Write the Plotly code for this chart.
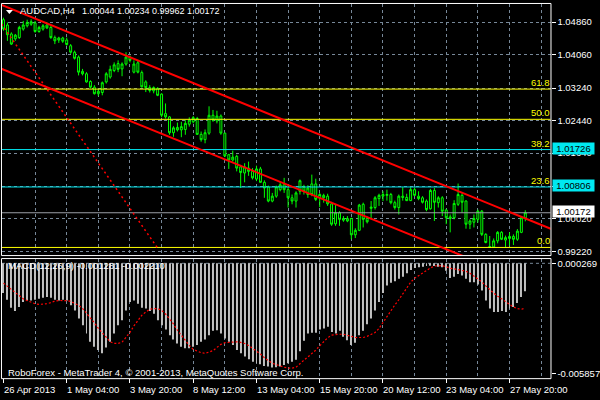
import plotly.graph_objects as go

# ---------------- data ----------------
time_labels = ["26 Apr 2013", "1 May 04:00", "3 May 20:00", "8 May 12:00", "13 May 04:00",
               "15 May 20:00", "20 May 12:00", "23 May 04:00", "27 May 20:00"]
time_label_bars = [0, 16, 32, 48, 64, 80, 96, 112, 128]
grid_bars = [8, 16, 24, 32, 40, 48, 56, 64, 72, 80, 88, 96, 104, 112, 120, 128, 136]

open_ = [1.0492, 1.0479, 1.0457, 1.0445, 1.0448, 1.0469, 1.0477, 1.0481, 1.0484, 1.0463,
         1.0469, 1.0479, 1.0473, 1.0448, 1.0442, 1.0447, 1.0442, 1.0428, 1.0412, 1.0400,
         1.0365, 1.0359, 1.0340, 1.0326, 1.0310, 1.0313, 1.0339, 1.0351, 1.0367, 1.0384,
         1.0371, 1.0383, 1.0400, 1.0363, 1.0386, 1.0362, 1.0339, 1.0325, 1.0317, 1.0323,
         1.0309, 1.0261, 1.0253, 1.0214, 1.0227, 1.0221, 1.0222, 1.0235, 1.0241, 1.0249,
         1.0210, 1.0197, 1.0213, 1.0257, 1.0243, 1.0255, 1.0213, 1.0160, 1.0147, 1.0156,
         1.0130, 1.0115, 1.0127, 1.0119, 1.0100, 1.0125, 1.0092, 1.0081, 1.0046, 1.0058,
         1.0074, 1.0086, 1.0074, 1.0054, 1.0046, 1.0070, 1.0080, 1.0062, 1.0088, 1.0088,
         1.0054, 1.0060, 1.0058, 1.0039, 0.9990, 1.0017, 0.9999, 1.0003, 1.0003, 0.9963,
         0.9974, 1.0038, 1.0003, 1.0028, 1.0030, 1.0052, 1.0058, 1.0060, 1.0062, 1.0042,
         1.0030, 1.0058, 1.0055, 1.0047, 1.0074, 1.0058, 1.0054, 1.0046, 1.0027, 1.0072,
         1.0042, 1.0054, 1.0024, 1.0007, 1.0005, 1.0038, 1.0060, 1.0046, 0.9989, 0.9994,
         1.0001, 1.0021, 0.9964, 0.9934, 0.9933, 0.9948, 0.9969, 0.9950, 0.9954, 0.9959,
         0.9952, 0.9969, 1.00044]
high = [1.0497, 1.0485, 1.0461, 1.0457, 1.0477, 1.0489, 1.0492, 1.0493, 1.0489, 1.0477,
        1.0481, 1.0485, 1.0477, 1.0453, 1.0450, 1.0450, 1.0448, 1.0432, 1.0416, 1.0404,
        1.0371, 1.0363, 1.0343, 1.0331, 1.0322, 1.0340, 1.0363, 1.0379, 1.0387, 1.0392,
        1.0387, 1.0412, 1.0404, 1.0392, 1.0392, 1.0367, 1.0343, 1.0331, 1.0328, 1.0326,
        1.0311, 1.0286, 1.0255, 1.0230, 1.0239, 1.0241, 1.0245, 1.0252, 1.0255, 1.0253,
        1.0217, 1.0222, 1.0279, 1.0270, 1.0268, 1.0259, 1.0214, 1.0162, 1.0170, 1.0160,
        1.0135, 1.0139, 1.0143, 1.0127, 1.0133, 1.0130, 1.0097, 1.0084, 1.0066, 1.0084,
        1.0093, 1.0103, 1.0082, 1.0062, 1.0070, 1.0099, 1.0086, 1.0085, 1.0111, 1.0101,
        1.0066, 1.0064, 1.0064, 1.0044, 1.0038, 1.0021, 1.0009, 1.0009, 1.0005, 0.9979,
        1.0039, 1.0042, 1.0008, 1.0046, 1.0058, 1.0064, 1.0070, 1.0074, 1.0066, 1.0047,
        1.0062, 1.0080, 1.0064, 1.0080, 1.0079, 1.0070, 1.0058, 1.0050, 1.0076, 1.0078,
        1.0058, 1.0058, 1.0027, 1.0013, 1.0048, 1.0089, 1.0065, 1.0048, 1.0001, 1.0013,
        1.0025, 1.0024, 0.9967, 0.9960, 0.9954, 0.9972, 0.9972, 0.9961, 0.9969, 0.9964,
        0.9977, 1.0009, 1.00234]
low = [1.0465, 1.0440, 1.0430, 1.0440, 1.0445, 1.0465, 1.0473, 1.0477, 1.0460, 1.0460,
       1.0465, 1.0469, 1.0445, 1.0432, 1.0435, 1.0435, 1.0428, 1.0408, 1.0394, 1.0355,
       1.0355, 1.0337, 1.0323, 1.0308, 1.0304, 1.0306, 1.0335, 1.0347, 1.0363, 1.0363,
       1.0353, 1.0379, 1.0387, 1.0360, 1.0360, 1.0325, 1.0314, 1.0313, 1.0311, 1.0304,
       1.0252, 1.0249, 1.0209, 1.0204, 1.0217, 1.0203, 1.0209, 1.0229, 1.0237, 1.0209,
       1.0192, 1.0188, 1.0209, 1.0241, 1.0237, 1.0209, 1.0154, 1.0125, 1.0143, 1.0119,
       1.0078, 1.0092, 1.0108, 1.0099, 1.0095, 1.0091, 1.0054, 1.0043, 1.0043, 1.0054,
       1.0070, 1.0066, 1.0030, 1.0038, 1.0030, 1.0062, 1.0062, 1.0054, 1.0058, 1.0046,
       1.0031, 1.0042, 1.0034, 0.9985, 0.9985, 0.9985, 0.9995, 0.9994, 0.9952, 0.9955,
       0.9972, 0.9981, 0.9991, 1.0001, 1.0025, 1.0034, 1.0046, 1.0047, 1.0038, 1.0025,
       1.0013, 1.0047, 1.0046, 1.0046, 1.0058, 1.0048, 1.0040, 1.0021, 1.0025, 0.9997,
       1.0030, 1.0009, 0.9989, 0.9969, 1.0001, 1.0034, 1.0017, 0.9978, 0.9977, 0.9981,
       0.9993, 0.9960, 0.9942, 0.99319, 0.9932, 0.9942, 0.9950, 0.9933, 0.9936, 0.9938,
       0.9948, 0.9967, 0.99962]
close = [1.0469, 1.0455, 1.0432, 1.0454, 1.0473, 1.0479, 1.0485, 1.0487, 1.0463, 1.0473,
         1.0477, 1.0472, 1.0448, 1.0440, 1.0447, 1.0439, 1.0431, 1.0412, 1.0397, 1.0363,
         1.0359, 1.0339, 1.0326, 1.0310, 1.0316, 1.0337, 1.0359, 1.0370, 1.0381, 1.0370,
         1.0383, 1.0400, 1.0392, 1.0383, 1.0363, 1.0327, 1.0325, 1.0318, 1.0325, 1.0306,
         1.0257, 1.0253, 1.0214, 1.0226, 1.0221, 1.0229, 1.0237, 1.0245, 1.0251, 1.0210,
         1.0197, 1.0214, 1.0257, 1.0245, 1.0255, 1.0213, 1.0157, 1.0147, 1.0154, 1.0127,
         1.0116, 1.0130, 1.0119, 1.0103, 1.0125, 1.0092, 1.0078, 1.0046, 1.0058, 1.0081,
         1.0086, 1.0074, 1.0054, 1.0046, 1.0066, 1.0096, 1.0070, 1.0078, 1.0062, 1.0050,
         1.0062, 1.0054, 1.0039, 0.9989, 1.0017, 1.0001, 1.0003, 0.9997, 0.9963, 0.9974,
         1.0036, 1.0001, 0.9995, 1.0031, 1.0054, 1.0060, 1.0062, 1.0062, 1.0042, 1.0030,
         1.0058, 1.0055, 1.0047, 1.0074, 1.0060, 1.0052, 1.0043, 1.0025, 1.0072, 1.0043,
         1.0054, 1.0021, 1.0005, 1.0003, 1.0040, 1.0062, 1.0043, 0.9989, 0.9997, 1.0003,
         1.0021, 0.9964, 0.9944, 0.9933, 0.9948, 0.9969, 0.9952, 0.9956, 0.9959, 0.9952,
         0.9972, 1.0005, 1.00172]

macd_main = [-0.00138, -0.00175, -0.00219, -0.00237, -0.00215, -0.00188, -0.00179, -0.00179, -0.00175, -0.00170,
             -0.00164, -0.00160, -0.00164, -0.00175, -0.00179, -0.00175, -0.00179, -0.00206, -0.00234, -0.00279,
             -0.00316, -0.00362, -0.00408, -0.00435, -0.00454, -0.00472, -0.00439, -0.00408, -0.00362, -0.00316,
             -0.00289, -0.00234, -0.00188, -0.00179, -0.00197, -0.00219, -0.00224, -0.00237, -0.00252, -0.00289,
             -0.00316, -0.00340, -0.00371, -0.00395, -0.00417, -0.00435, -0.00444, -0.00444, -0.00435, -0.00426,
             -0.00408, -0.00395, -0.00371, -0.00347, -0.00344, -0.00362, -0.00389, -0.00408, -0.00426, -0.00454,
             -0.00472, -0.00490, -0.00505, -0.00518, -0.00527, -0.00532, -0.00542, -0.00545, -0.00551, -0.00549,
             -0.00545, -0.00536, -0.00527, -0.00518, -0.00508, -0.00460, -0.00402, -0.00362, -0.00358, -0.00358,
             -0.00340, -0.00334, -0.00325, -0.00353, -0.00362, -0.00347, -0.00380, -0.00399, -0.00426, -0.00413,
             -0.00371, -0.00347, -0.00311, -0.00279, -0.00234, -0.00188, -0.00138, -0.00096, -0.00081, -0.00072,
             -0.00059, -0.00047, -0.00028, -0.00010, 0.00001, 0.00005, 0.00008, 0.00012, 0.00014, 0.00012,
             0.00008, 0.00005, -0.00014, -0.00054, -0.00047, -0.00032, -0.00041, -0.00059, -0.00078, -0.00078,
             -0.00091, -0.00124, -0.00179, -0.00224, -0.00243, -0.00243, -0.00237, -0.00243, -0.00224, -0.00215,
             -0.00193, -0.00160, -0.001281]
macd_signal = [-0.00083, -0.00100, -0.00118, -0.00138, -0.00155, -0.00170, -0.00180, -0.00190, -0.00197, -0.00201,
               -0.00201, -0.00197, -0.00191, -0.00182, -0.00179, -0.00179, -0.00180, -0.00184, -0.00193, -0.00206,
               -0.00223, -0.00248, -0.00276, -0.00303, -0.00333, -0.00360, -0.00386, -0.00408, -0.00417, -0.00417,
               -0.00410, -0.00386, -0.00356, -0.00320, -0.00289, -0.00261, -0.00243, -0.00228, -0.00224, -0.00224,
               -0.00234, -0.00254, -0.00281, -0.00309, -0.00344, -0.00373, -0.00399, -0.00428, -0.00450, -0.00461,
               -0.00468, -0.00472, -0.00466, -0.00457, -0.00439, -0.00422, -0.00413, -0.00410, -0.00408, -0.00408,
               -0.00411, -0.00417, -0.00428, -0.00443, -0.00459, -0.00476, -0.00496, -0.00514, -0.00527, -0.00534,
               -0.00543, -0.00549, -0.00553, -0.00554, -0.00549, -0.00532, -0.00510, -0.00492, -0.00474, -0.00454,
               -0.00430, -0.00408, -0.00386, -0.00371, -0.00367, -0.00366, -0.00366, -0.00373, -0.00380, -0.00384,
               -0.00384, -0.00384, -0.00378, -0.00367, -0.00356, -0.00334, -0.00300, -0.00270, -0.00234, -0.00204,
               -0.00175, -0.00142, -0.00109, -0.00078, -0.00056, -0.00041, -0.00026, -0.00012, 0.00001, 0.00012,
               0.00014, 0.00014, 0.00008, -0.00001, -0.00004, -0.00008, -0.00010, -0.00017, -0.00028, -0.00043,
               -0.00059, -0.00076, -0.00098, -0.00120, -0.00138, -0.00155, -0.00171, -0.00184, -0.00199, -0.00215,
               -0.00224, -0.00228, -0.00221]

price_ticks = [1.04860, 1.04060, 1.03240, 1.02440, 1.01640, 1.00820, 1.00020, 0.99220]
macd_top, macd_bottom = 0.000269, -0.005857

fib_names = ["0.0", "23.6", "38.2", "50.0", "61.8"]
fib_prices = [0.99319, 1.00806, 1.01726, 1.02470, 1.03213]
fib_colors = ["#FFFF00", "#00E8F0", "#00E8F0", "#FFFF00", "#FFFF00"]
fib_anchor_bars = [-6.25, 38.875]
fib_anchor_prices = [1.05620, 0.99319]

channel_bars = [-1, 139]
channel_upper = [1.05304, 0.99754]
channel_lower = [1.03732, 0.98211]

bid_price = 1.00172
header_parts = ["AUDCAD,H4", "1.00044", "1.00234", "0.99962", "1.00172"]
macd_header = "MACD(12,26,9) -0.001281 -0.002210"
copyright_text = "RoboForex - MetaTrader 4, \u00a9 2001-2013, MetaQuotes Software Corp."

# ---------------- layout geometry (pixels) ----------------
W, H = 600, 400
FONT = "Liberation Sans, Arial, sans-serif"
FS = 9.5
GRID = "#778899"
DASH = "3px,3px"
header_x_px = [19, 81.5, 117, 153, 188.5]
header_fs = [9.5, 9, 9, 9, 9]

def fx(p):
    return p / W

def fy(p):
    return 1 - p / H

bars = list(range(len(open_)))
hist_len = [v - macd_top for v in macd_main]

fig = go.Figure()

fig.add_trace(go.Candlestick(
    x=bars, open=open_, high=high, low=low, close=close,
    increasing=dict(line=dict(color="#00FF00", width=1), fillcolor="#000000"),
    decreasing=dict(line=dict(color="#00FF00", width=1), fillcolor="#000000"),
    whiskerwidth=0, xaxis="x", yaxis="y", hoverinfo="skip"))

for name, lvl, col in zip(fib_names, fib_prices, fib_colors):
    fig.add_trace(go.Scatter(x=[-7, 140], y=[lvl, lvl], mode="lines",
                             line=dict(color=col, width=1), xaxis="x", yaxis="y",
                             hoverinfo="skip"))
fig.add_trace(go.Scatter(x=[-7, 140], y=[bid_price, bid_price], mode="lines",
                         line=dict(color="#9A9EA6", width=1), xaxis="x", yaxis="y",
                         hoverinfo="skip"))
fig.add_trace(go.Scatter(x=fib_anchor_bars, y=fib_anchor_prices, mode="lines",
                         line=dict(color="#FF0000", width=1.5, dash="2px,3px"),
                         xaxis="x", yaxis="y", hoverinfo="skip"))
for ys in (channel_upper, channel_lower):
    fig.add_trace(go.Scatter(x=channel_bars, y=ys, mode="lines",
                             line=dict(color="#FF0000", width=2),
                             xaxis="x", yaxis="y", hoverinfo="skip"))

fig.add_trace(go.Bar(x=bars, y=hist_len, base=macd_top, width=0.25,
                     marker=dict(color="#C0C0C0", line=dict(width=0)),
                     xaxis="x2", yaxis="y2", hoverinfo="skip"))
fig.add_trace(go.Scatter(x=bars, y=macd_signal, mode="lines",
                         line=dict(color="#FF0000", width=1.2, dash="2px,2px"),
                         xaxis="x2", yaxis="y2", hoverinfo="skip"))

xdom = [fx(2), fx(557)]
xr = [-0.375, 138.375]
main_rng = [1.0538 - 0.0002441 * 256, 1.0538 - 0.0002441 * 3]
def macd_at(py):
    return macd_top - (py - 264.3) * 5.499e-5
macd_rng = [macd_at(380), macd_at(260)]

tickfont = dict(family=FONT, size=FS, color="white")

fig.update_layout(
    width=W, height=H, margin=dict(l=0, r=0, t=0, b=0),
    paper_bgcolor="black", plot_bgcolor="black", showlegend=False,
    xaxis=dict(domain=xdom, range=xr, anchor="y", tickmode="array", tickvals=grid_bars,
               showgrid=True, gridcolor=GRID, griddash=DASH, gridwidth=1,
               showticklabels=False, ticks="", zeroline=False, showline=False,
               rangeslider=dict(visible=False), fixedrange=True),
    xaxis2=dict(domain=xdom, range=xr, anchor="y2", matches="x", tickmode="array",
                tickvals=time_label_bars, ticks="outside", ticklen=4, tickcolor="white",
                showticklabels=False, showgrid=False, zeroline=False, showline=False,
                minor=dict(tickmode="array", tickvals=grid_bars, showgrid=True,
                           gridcolor=GRID, griddash=DASH, gridwidth=1, ticks="")),
    yaxis=dict(domain=[fy(256), fy(3)], range=main_rng, anchor="x", side="right",
               tickmode="array", tickvals=price_ticks,
               ticktext=["%.5f" % v for v in price_ticks],
               ticks="outside", ticklen=4, tickcolor="white", tickfont=tickfont,
               showgrid=True, gridcolor=GRID, griddash=DASH, gridwidth=1,
               zeroline=False, showline=False),
    yaxis2=dict(domain=[fy(380), fy(260)], range=macd_rng, anchor="x2", side="right",
                tickmode="array", tickvals=[macd_top, macd_bottom],
                ticktext=["%.6f" % macd_top, "%.6f" % macd_bottom],
                ticks="outside", ticklen=4, tickcolor="white", tickfont=tickfont,
                showgrid=False, zeroline=False, showline=False),
)

shapes = [
    dict(type="rect", xref="paper", yref="paper", x0=fx(1.5), x1=fx(557.5),
         y0=fy(256.5), y1=fy(2.5), line=dict(color="white", width=1)),
    dict(type="rect", xref="paper", yref="paper", x0=fx(1.5), x1=fx(557.5),
         y0=fy(380.5), y1=fy(259.5), line=dict(color="white", width=1)),
    dict(type="line", xref="paper", yref="y2", x0=fx(2), x1=fx(557),
         y0=macd_top, y1=macd_top, layer="below",
         line=dict(color=GRID, width=1, dash=DASH)),
    dict(type="path", xref="paper", yref="paper",
         path="M %f %f L %f %f L %f %f Z" % (fx(6), fy(9), fx(13), fy(9), fx(9.5), fy(13)),
         fillcolor="white", line=dict(color="white", width=0)),
]
fig.update_layout(shapes=shapes)

ann = []
for part, xp, fs in zip(header_parts, header_x_px, header_fs):
    ann.append(dict(text=part, xref="paper", yref="paper", x=fx(xp), y=fy(10),
                    xanchor="left", yanchor="middle", showarrow=False, borderpad=0,
                    font=dict(family=FONT, size=fs, color="white")))
for name, lvl in zip(fib_names, fib_prices):
    ann.append(dict(text=name, xref="paper", yref="y", x=fx(557), y=lvl,
                    xanchor="right", yanchor="bottom", yshift=0, showarrow=False,
                    borderpad=0, font=dict(family=FONT, size=FS, color="#FFFF00")))
for label, val, bg in (("1.01726", fib_prices[2], "#00E8F0"),
                       ("1.00806", fib_prices[1], "#00E8F0"),
                       ("1.00172", bid_price, "white")):
    ann.append(dict(text=label, xref="paper", yref="y", x=fx(559), y=val, yshift=1,
                    xanchor="left", yanchor="middle", showarrow=False, width=41, height=11,
                    align="center", bgcolor=bg, borderpad=0,
                    font=dict(family=FONT, size=FS, color="black")))
ann.append(dict(text=macd_header, xref="paper", yref="paper", x=fx(7), y=fy(267),
                xanchor="left", yanchor="middle", showarrow=False, borderpad=0,
                font=dict(family=FONT, size=FS, color="white")))
ann.append(dict(text=copyright_text, xref="paper", yref="paper", x=fx(7), y=fy(374),
                xanchor="left", yanchor="middle", showarrow=False, borderpad=0,
                font=dict(family=FONT, size=FS, color="white")))
for b, t in zip(time_label_bars, time_labels):
    ann.append(dict(text=t, xref="x2", yref="paper", x=b - 0.2, y=fy(391.5),
                    xanchor="left", yanchor="middle", showarrow=False, borderpad=0,
                    font=dict(family=FONT, size=FS, color="white")))
fig.update_layout(annotations=ann)

fig.write_html("out.html", config={"displayModeBar": False},
               post_script="document.body.style.margin='0';document.body.style.overflow='hidden';")
